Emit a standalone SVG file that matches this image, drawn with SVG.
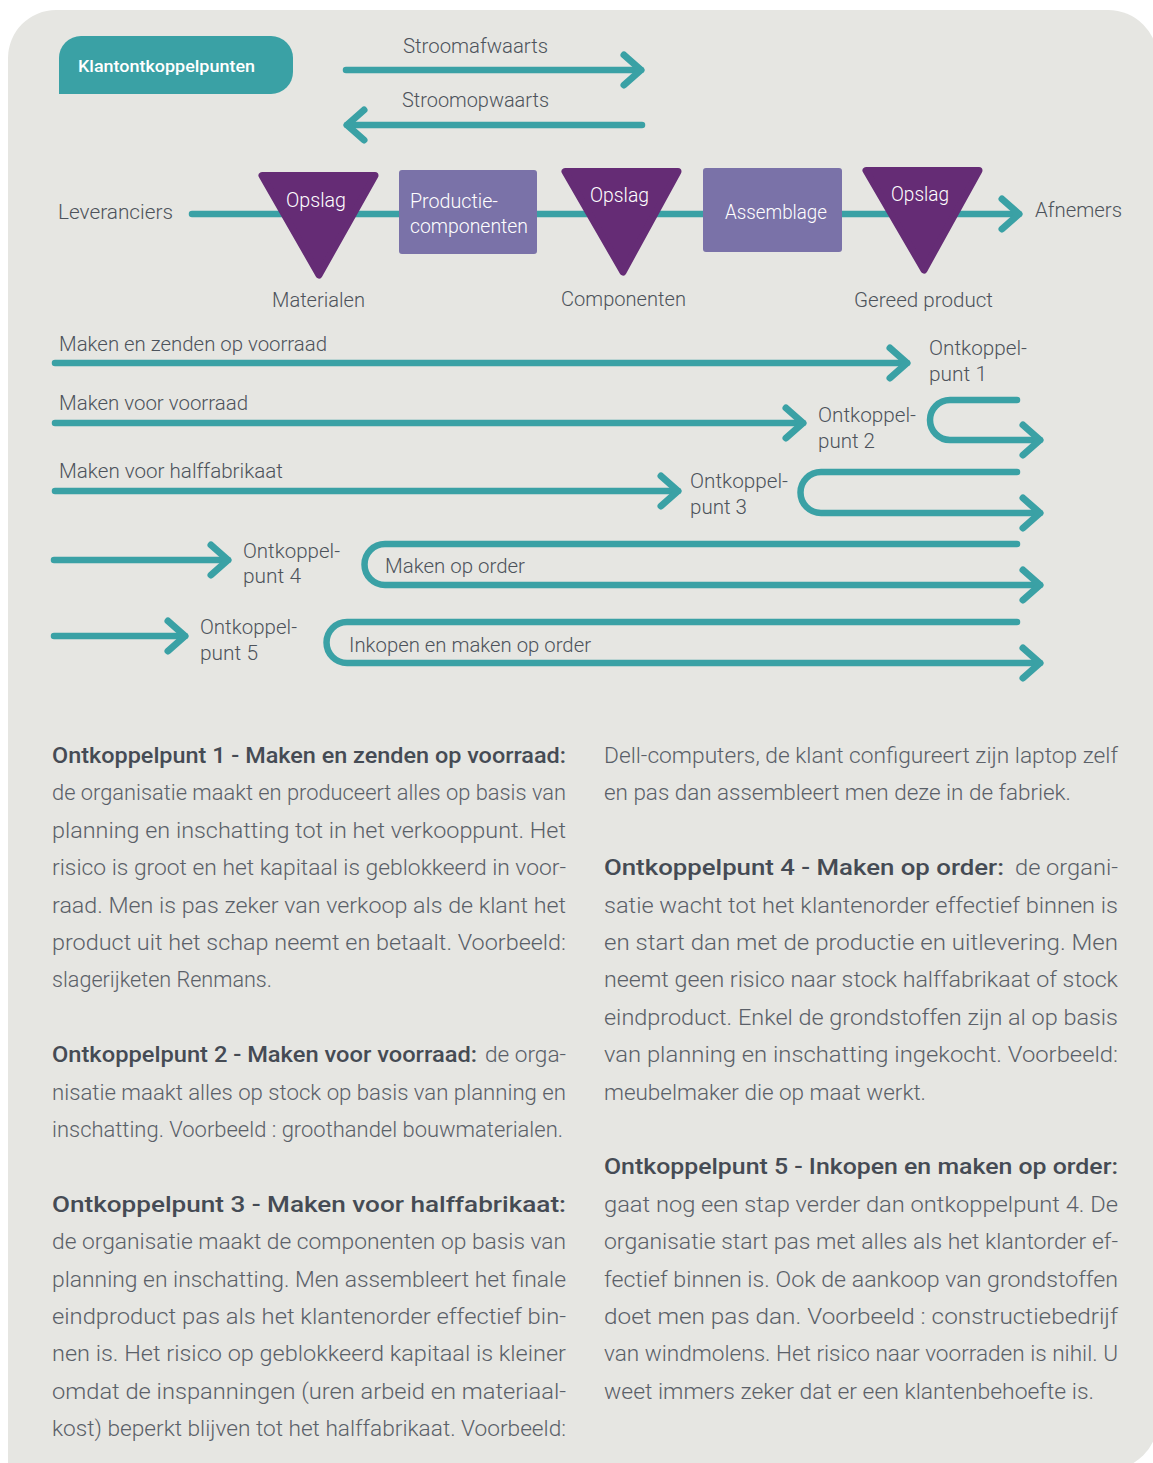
<svg xmlns="http://www.w3.org/2000/svg" width="1153" height="1463" viewBox="0 0 1153 1463">
  <defs>
    <style>
      .ln { fill: none; stroke: #3aa1a5; stroke-width: 6.5; stroke-linecap: round; stroke-linejoin: round; }
      .tri { fill: #652c75; stroke: #652c75; stroke-width: 7; stroke-linejoin: round; }
      .box { fill: #7a72a8; }
      .t { font-family: Roboto, "Liberation Sans", sans-serif; font-weight: 300; font-size: 21px; fill: #4d535b; }
      .w { fill: #ffffff; }
      .tag { font-family: Roboto, "Liberation Sans", sans-serif; font-weight: 500; font-size: 17px; fill: #ffffff; }
      .b { font-family: Roboto, "Liberation Sans", sans-serif; font-weight: 300; font-size: 22px; fill: #5a6068; }
      .h { font-weight: 500; fill: #454b54; }
    </style>
    <marker id="chev" markerUnits="userSpaceOnUse" viewBox="-22 -20 26 40" refX="0" refY="0" markerWidth="26" markerHeight="40" orient="auto" overflow="visible">
      <path d="M-17,-15 L0,0 L-17,15" fill="none" stroke="#3aa1a5" stroke-width="7" stroke-linecap="round" stroke-linejoin="round"/>
    </marker>
  </defs>

  <!-- panel -->
  <rect width="1153" height="1463" fill="#ffffff"/>
  <path d="M8,1470 V58 A48,48 0 0 1 56,10 H1108 A50,50 0 0 1 1158,60 V1420 A50,50 0 0 1 1108,1470 Z" fill="#e6e6e2"/>

  <!-- legend -->
  <g id="legend">
    <path d="M59,94 V58 A22,22 0 0 1 81,36 H271 A22,22 0 0 1 293,58 V72 A22,22 0 0 1 271,94 Z" fill="#3aa1a5"/>
    <text class="tag" x="78" y="72" textLength="177" lengthAdjust="spacingAndGlyphs">Klantontkoppelpunten</text>
    <text class="t" x="403" y="53" textLength="145" lengthAdjust="spacingAndGlyphs">Stroomafwaarts</text>
    <text class="t" x="402" y="107" textLength="147" lengthAdjust="spacingAndGlyphs">Stroomopwaarts</text>
  </g>

  <!-- connectors -->
  <g id="connectors">
    <path class="ln" d="M346,70 H641" marker-end="url(#chev)"/>
    <path class="ln" d="M642,125 H347" marker-end="url(#chev)"/>
    <path class="ln" d="M192,214 H1019" marker-end="url(#chev)"/>
    <path class="ln" d="M55,363 H907" marker-end="url(#chev)"/>
    <path class="ln" d="M55,423 H803" marker-end="url(#chev)"/>
    <path class="ln" d="M55,491 H678" marker-end="url(#chev)"/>
    <path class="ln" d="M54,560 H228" marker-end="url(#chev)"/>
    <path class="ln" d="M54,636 H185" marker-end="url(#chev)"/>
    <path class="ln" d="M1017,400 H950 A20,20 0 0 0 950,440 H1040" marker-end="url(#chev)"/>
    <path class="ln" d="M1017,472 H821 A20.5,20.5 0 0 0 821,513 H1040" marker-end="url(#chev)"/>
    <path class="ln" d="M1017,544 H385 A20.5,20.5 0 0 0 385,585 H1040" marker-end="url(#chev)"/>
    <path class="ln" d="M1017,622 H347 A20.5,20.5 0 0 0 347,663 H1040" marker-end="url(#chev)"/>
  </g>

  <!-- supply chain -->
  <g id="leveranciers">
    <text class="t" x="58" y="219" textLength="115" lengthAdjust="spacingAndGlyphs">Leveranciers</text>
  </g>
  <g id="opslag-materialen">
    <polygon class="tri" points="262,175.5 375,175.5 319,275"/>
    <text class="t w" x="286" y="207" textLength="60" lengthAdjust="spacingAndGlyphs">Opslag</text>
    <text class="t" x="272" y="307" textLength="93" lengthAdjust="spacingAndGlyphs">Materialen</text>
  </g>
  <g id="productiecomponenten">
    <rect class="box" x="399" y="170" width="138" height="84" rx="3"/>
    <text class="t w" x="410" y="208" textLength="88" lengthAdjust="spacingAndGlyphs">Productie-</text>
    <text class="t w" x="410" y="233" textLength="118" lengthAdjust="spacingAndGlyphs">componenten</text>
  </g>
  <g id="opslag-componenten">
    <polygon class="tri" points="565,171.5 678,171.5 623,272"/>
    <text class="t w" x="590" y="202" textLength="59" lengthAdjust="spacingAndGlyphs">Opslag</text>
    <text class="t" x="561" y="306" textLength="125" lengthAdjust="spacingAndGlyphs">Componenten</text>
  </g>
  <g id="assemblage">
    <rect class="box" x="703" y="168" width="139" height="84" rx="3"/>
    <text class="t w" x="725" y="219" textLength="102" lengthAdjust="spacingAndGlyphs">Assemblage</text>
  </g>
  <g id="opslag-gereed">
    <polygon class="tri" points="866,170.5 979,170.5 924,270"/>
    <text class="t w" x="891" y="201" textLength="58" lengthAdjust="spacingAndGlyphs">Opslag</text>
    <text class="t" x="854" y="307" textLength="139" lengthAdjust="spacingAndGlyphs">Gereed product</text>
  </g>
  <g id="afnemers">
    <text class="t" x="1035" y="217" textLength="87" lengthAdjust="spacingAndGlyphs">Afnemers</text>
  </g>

  <!-- decoupling rows -->
  <g id="row1">
    <text class="t" x="59" y="351" textLength="268" lengthAdjust="spacingAndGlyphs">Maken en zenden op voorraad</text>
    <text class="t" x="929" y="355" textLength="98" lengthAdjust="spacingAndGlyphs">Ontkoppel-</text>
    <text class="t" x="929" y="381" textLength="58" lengthAdjust="spacingAndGlyphs">punt 1</text>
  </g>
  <g id="row2">
    <text class="t" x="59" y="410" textLength="189" lengthAdjust="spacingAndGlyphs">Maken voor voorraad</text>
    <text class="t" x="818" y="422" textLength="98" lengthAdjust="spacingAndGlyphs">Ontkoppel-</text>
    <text class="t" x="818" y="448" textLength="57" lengthAdjust="spacingAndGlyphs">punt 2</text>
  </g>
  <g id="row3">
    <text class="t" x="59" y="478" textLength="224" lengthAdjust="spacingAndGlyphs">Maken voor halffabrikaat</text>
    <text class="t" x="690" y="488" textLength="98" lengthAdjust="spacingAndGlyphs">Ontkoppel-</text>
    <text class="t" x="690" y="514" textLength="57" lengthAdjust="spacingAndGlyphs">punt 3</text>
  </g>
  <g id="row4">
    <text class="t" x="243" y="558" textLength="97" lengthAdjust="spacingAndGlyphs">Ontkoppel-</text>
    <text class="t" x="243" y="583" textLength="58" lengthAdjust="spacingAndGlyphs">punt 4</text>
    <text class="t" x="385" y="573" textLength="140" lengthAdjust="spacingAndGlyphs">Maken op order</text>
  </g>
  <g id="row5">
    <text class="t" x="200" y="634" textLength="97" lengthAdjust="spacingAndGlyphs">Ontkoppel-</text>
    <text class="t" x="200" y="660" textLength="58" lengthAdjust="spacingAndGlyphs">punt 5</text>
    <text class="t" x="349" y="652" textLength="242" lengthAdjust="spacingAndGlyphs">Inkopen en maken op order</text>
  </g>

  <!-- explanatory text, left column -->
  <g id="text-left" class="b">
    <text class="h" x="52" y="763" textLength="514" lengthAdjust="spacingAndGlyphs">Ontkoppelpunt 1 - Maken en zenden op voorraad:</text>
    <text x="52" y="800.4" textLength="514" lengthAdjust="spacingAndGlyphs">de organisatie maakt en produceert alles op basis van</text>
    <text x="52" y="837.8" textLength="514" lengthAdjust="spacingAndGlyphs">planning en inschatting tot in het verkooppunt. Het</text>
    <text x="52" y="875.2" textLength="514" lengthAdjust="spacingAndGlyphs">risico is groot en het kapitaal is geblokkeerd in voor-</text>
    <text x="52" y="912.6" textLength="514" lengthAdjust="spacingAndGlyphs">raad. Men is pas zeker van verkoop als de klant het</text>
    <text x="52" y="950" textLength="514" lengthAdjust="spacingAndGlyphs">product uit het schap neemt en betaalt. Voorbeeld:</text>
    <text x="52" y="987.4" textLength="220" lengthAdjust="spacingAndGlyphs">slagerijketen Renmans.</text>

    <text class="h" x="52" y="1062.2" textLength="425" lengthAdjust="spacingAndGlyphs">Ontkoppelpunt 2 - Maken voor voorraad:</text>
    <text x="485" y="1062.2" textLength="81" lengthAdjust="spacingAndGlyphs">de orga-</text>
    <text x="52" y="1099.6" textLength="514" lengthAdjust="spacingAndGlyphs">nisatie maakt alles op stock op basis van planning en</text>
    <text x="52" y="1137" textLength="511" lengthAdjust="spacingAndGlyphs">inschatting. Voorbeeld : groothandel bouwmaterialen.</text>

    <text class="h" x="52" y="1211.8" textLength="514" lengthAdjust="spacingAndGlyphs">Ontkoppelpunt 3 - Maken voor halffabrikaat:</text>
    <text x="52" y="1249.2" textLength="514" lengthAdjust="spacingAndGlyphs">de organisatie maakt de componenten op basis van</text>
    <text x="52" y="1286.6" textLength="514" lengthAdjust="spacingAndGlyphs">planning en inschatting. Men assembleert het finale</text>
    <text x="52" y="1324" textLength="514" lengthAdjust="spacingAndGlyphs">eindproduct pas als het klantenorder effectief bin-</text>
    <text x="52" y="1361.4" textLength="514" lengthAdjust="spacingAndGlyphs">nen is. Het risico op geblokkeerd kapitaal is kleiner</text>
    <text x="52" y="1398.8" textLength="514" lengthAdjust="spacingAndGlyphs">omdat de inspanningen (uren arbeid en materiaal-</text>
    <text x="52" y="1436.2" textLength="514" lengthAdjust="spacingAndGlyphs">kost) beperkt blijven tot het halffabrikaat. Voorbeeld:</text>
  </g>

  <!-- explanatory text, right column -->
  <g id="text-right" class="b">
    <text x="604" y="763" textLength="514" lengthAdjust="spacingAndGlyphs">Dell-computers, de klant configureert zijn laptop zelf</text>
    <text x="604" y="800.4" textLength="467" lengthAdjust="spacingAndGlyphs">en pas dan assembleert men deze in de fabriek.</text>

    <text class="h" x="604" y="875.2" textLength="400" lengthAdjust="spacingAndGlyphs">Ontkoppelpunt 4 - Maken op order:</text>
    <text x="1015" y="875.2" textLength="103" lengthAdjust="spacingAndGlyphs">de organi-</text>
    <text x="604" y="912.6" textLength="514" lengthAdjust="spacingAndGlyphs">satie wacht tot het klantenorder effectief binnen is</text>
    <text x="604" y="950" textLength="514" lengthAdjust="spacingAndGlyphs">en start dan met de productie en uitlevering. Men</text>
    <text x="604" y="987.4" textLength="514" lengthAdjust="spacingAndGlyphs">neemt geen risico naar stock halffabrikaat of stock</text>
    <text x="604" y="1024.8" textLength="514" lengthAdjust="spacingAndGlyphs">eindproduct. Enkel de grondstoffen zijn al op basis</text>
    <text x="604" y="1062.2" textLength="514" lengthAdjust="spacingAndGlyphs">van planning en inschatting ingekocht. Voorbeeld:</text>
    <text x="604" y="1099.6" textLength="322" lengthAdjust="spacingAndGlyphs">meubelmaker die op maat werkt.</text>

    <text class="h" x="604" y="1174.4" textLength="514" lengthAdjust="spacingAndGlyphs">Ontkoppelpunt 5 - Inkopen en maken op order:</text>
    <text x="604" y="1211.8" textLength="514" lengthAdjust="spacingAndGlyphs">gaat nog een stap verder dan ontkoppelpunt 4. De</text>
    <text x="604" y="1249.2" textLength="514" lengthAdjust="spacingAndGlyphs">organisatie start pas met alles als het klantorder ef-</text>
    <text x="604" y="1286.6" textLength="514" lengthAdjust="spacingAndGlyphs">fectief binnen is. Ook de aankoop van grondstoffen</text>
    <text x="604" y="1324" textLength="514" lengthAdjust="spacingAndGlyphs">doet men pas dan. Voorbeeld : constructiebedrijf</text>
    <text x="604" y="1361.4" textLength="514" lengthAdjust="spacingAndGlyphs">van windmolens. Het risico naar voorraden is nihil. U</text>
    <text x="604" y="1398.8" textLength="490" lengthAdjust="spacingAndGlyphs">weet immers zeker dat er een klantenbehoefte is.</text>
  </g>
</svg>
